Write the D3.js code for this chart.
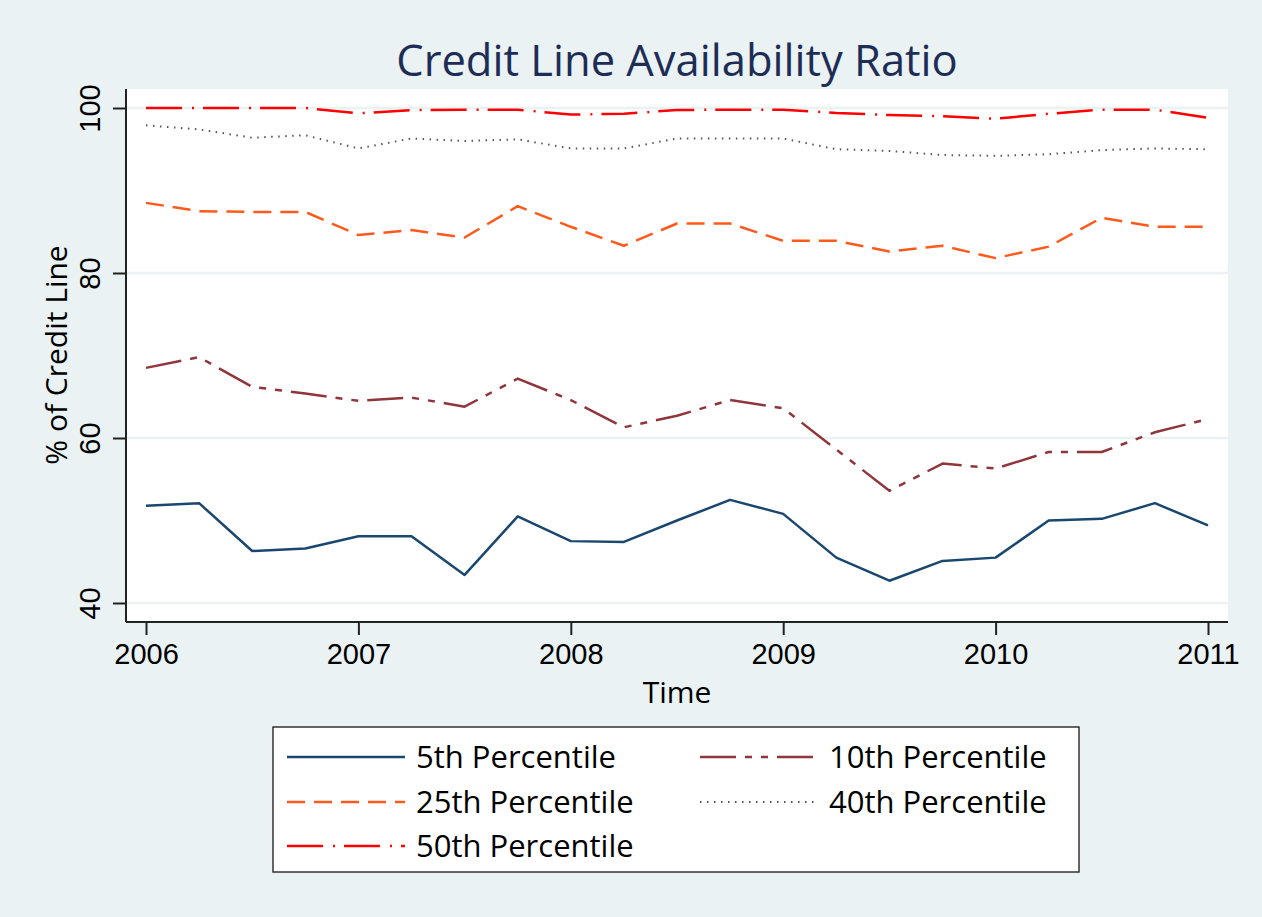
<!DOCTYPE html>
<html>
<head>
<meta charset="utf-8">
<script src="https://cdn.jsdelivr.net/npm/d3@7"></script>
<style>
  html, body { margin: 0; padding: 0; background: #eaf2f3; }
  svg { display: block; }
</style>
</head>
<body>
<script>
// quarterly observations, 2006Q1 .. 2011Q1
var dates = d3.range(21).map(function(i) { return 2006 + i / 4; });

var p5  = [51.8, 52.1, 46.3, 46.6, 48.1, 48.1, 43.4, 50.5, 47.5, 47.4, 50.0,
           52.5, 50.8, 45.5, 42.7, 45.1, 45.5, 50.0, 50.2, 52.1, 49.4];
var p10 = [68.5, 69.8, 66.2, 65.4, 64.5, 64.9, 63.8, 67.2, 64.6, 61.3, 62.7,
           64.6, 63.6, 58.6, 53.6, 56.9, 56.3, 58.3, 58.3, 60.7, 62.3];
var p25 = [88.5, 87.5, 87.4, 87.4, 84.6, 85.2, 84.3, 88.1, 85.6, 83.3, 86.0,
           86.0, 83.9, 83.9, 82.6, 83.3, 81.8, 83.2, 86.7, 85.6, 85.6];
var p40 = [97.9, 97.4, 96.4, 96.7, 95.1, 96.3, 96.0, 96.2, 95.1, 95.1, 96.3,
           96.3, 96.3, 95.0, 94.8, 94.3, 94.2, 94.4, 94.9, 95.1, 95.0];
var p50 = [100.0, 100.0, 100.0, 100.0, 99.35, 99.75, 99.8, 99.8, 99.2, 99.3, 99.75,
           99.8, 99.8, 99.4, 99.15, 99.0, 98.7, 99.3, 99.8, 99.8, 98.8];

var seriesNames = ["5th Percentile", "10th Percentile", "25th Percentile", "40th Percentile", "50th Percentile"];
var yTicks = [40, 60, 80, 100];
var xTicks = [2006, 2007, 2008, 2009, 2010, 2011];

var W = 1262, H = 917;
var fontUi = "'Open Sans', 'DejaVu Sans', sans-serif";
var fontNum = "'Liberation Sans', Arial, sans-serif";

var series = [
  { name: seriesNames[0], values: p5,  color: "#1a476f", dash: null,             width: 2.5 },
  { name: seriesNames[1], values: p10, color: "#90353b", dash: "36,9,7,9,7,9",   width: 2.5 },
  { name: seriesNames[2], values: p25, color: "#ff5a1c", dash: "18,9",           width: 2.5 },
  { name: seriesNames[3], values: p40, color: "#555555", dash: "1.5,5.5",        width: 2 },
  { name: seriesNames[4], values: p50, color: "#ff0000", dash: "36,10,2,9",      width: 2.5 }
];

var plot = { left: 126, right: 1228, top: 89, bottom: 622 };

var x = d3.scaleLinear().domain([2006, 2011]).range([146, 1208]);
var y = d3.scaleLinear().domain([40, 100]).range([603, 108]);

var svg = d3.select("body").append("svg")
    .attr("width", W)
    .attr("height", H);

svg.append("rect")
    .attr("width", W).attr("height", H)
    .attr("fill", "#eaf2f3");

// title
svg.append("text")
    .attr("x", 677).attr("y", 76)
    .attr("text-anchor", "middle")
    .attr("font-family", fontUi)
    .attr("font-size", 43.5)
    .attr("fill", "#1e2d56")
    .text("Credit Line Availability Ratio");

// plot region
svg.append("rect")
    .attr("x", plot.left).attr("y", plot.top)
    .attr("width", plot.right - plot.left)
    .attr("height", plot.bottom - plot.top)
    .attr("fill", "#ffffff");

// gridlines
svg.append("g").selectAll("line")
    .data(yTicks)
    .enter().append("line")
    .attr("x1", plot.left).attr("x2", plot.right)
    .attr("y1", function(d) { return y(d); })
    .attr("y2", function(d) { return y(d); })
    .attr("stroke", "#eaf2f3")
    .attr("stroke-width", 2.5);

// lines
var line = d3.line()
    .x(function(d, i) { return x(dates[i]); })
    .y(function(d) { return y(d); });

svg.append("g").selectAll("path")
    .data(series)
    .enter().append("path")
    .attr("d", function(s) { return line(s.values); })
    .attr("fill", "none")
    .attr("stroke", function(s) { return s.color; })
    .attr("stroke-width", function(s) { return s.width; })
    .attr("stroke-dasharray", function(s) { return s.dash; })
    .attr("stroke-linejoin", "round");

// y axis
var yAxis = svg.append("g")
    .attr("transform", "translate(" + plot.left + ",0)")
    .call(d3.axisLeft(y).tickValues(yTicks).tickSize(13).tickSizeOuter(0));
yAxis.select(".domain")
    .attr("d", "M0," + plot.top + "V" + plot.bottom)
    .attr("stroke", "#222").attr("stroke-width", 2);
yAxis.selectAll(".tick line").attr("stroke", "#222").attr("stroke-width", 2);
yAxis.selectAll(".tick text")
    .attr("x", null).attr("dy", null)
    .attr("transform", "translate(-26,0) rotate(-90)")
    .attr("text-anchor", "middle")
    .attr("font-family", fontNum)
    .attr("font-size", 29)
    .attr("fill", "#000");

// x axis
var xAxis = svg.append("g")
    .attr("transform", "translate(0," + plot.bottom + ")")
    .call(d3.axisBottom(x).tickValues(xTicks).tickFormat(d3.format("d")).tickSize(13).tickSizeOuter(0));
xAxis.select(".domain")
    .attr("d", "M" + plot.left + ",0H" + plot.right)
    .attr("stroke", "#222").attr("stroke-width", 2);
xAxis.selectAll(".tick line").attr("stroke", "#222").attr("stroke-width", 2);
xAxis.selectAll(".tick text")
    .attr("y", 42).attr("dy", null)
    .attr("font-family", fontNum)
    .attr("font-size", 29)
    .attr("fill", "#000");

// axis titles
svg.append("text")
    .attr("transform", "translate(67,355) rotate(-90)")
    .attr("text-anchor", "middle")
    .attr("font-family", fontUi)
    .attr("font-size", 30)
    .attr("fill", "#000")
    .text("% of Credit Line");

svg.append("text")
    .attr("x", 677).attr("y", 703)
    .attr("text-anchor", "middle")
    .attr("font-family", fontUi)
    .attr("font-size", 30)
    .attr("fill", "#000")
    .text("Time");

// legend
var legend = svg.append("g");
legend.append("rect")
    .attr("x", 273).attr("y", 727)
    .attr("width", 806).attr("height", 145)
    .attr("fill", "#ffffff")
    .attr("stroke", "#333")
    .attr("stroke-width", 1.5);

var rowY = [757, 802, 846];
var cols = [{ x0: 287, x1: 405, tx: 416 }, { x0: 700, x1: 817, tx: 829 }];

var items = legend.selectAll("g.item")
    .data(series)
    .enter().append("g")
    .attr("class", "item")
    .attr("transform", function(s, i) {
        return "translate(0," + rowY[Math.floor(i / 2)] + ")";
    });

items.append("line")
    .attr("x1", function(s, i) { return cols[i % 2].x0; })
    .attr("x2", function(s, i) { return cols[i % 2].x1; })
    .attr("y1", 0).attr("y2", 0)
    .attr("stroke", function(s) { return s.color; })
    .attr("stroke-width", function(s) { return s.width; })
    .attr("stroke-dasharray", function(s) { return s.dash; });

items.append("text")
    .attr("x", function(s, i) { return cols[i % 2].tx; })
    .attr("dy", "0.35em")
    .attr("font-family", fontUi)
    .attr("font-size", 31)
    .attr("fill", "#000")
    .text(function(s) { return s.name; });
</script>
</body>
</html>
